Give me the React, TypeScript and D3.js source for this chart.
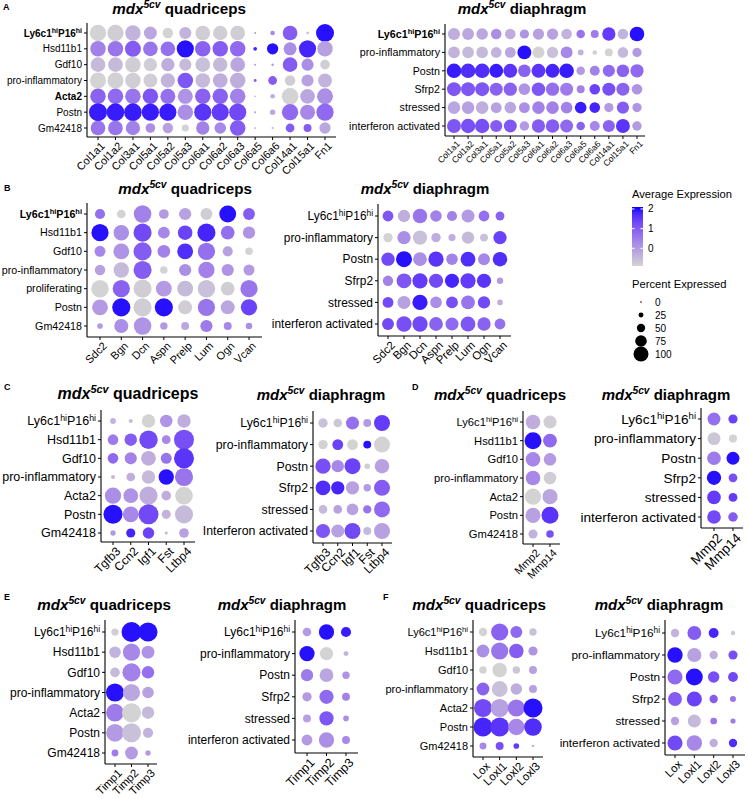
import React from 'react';
import * as d3 from 'd3';

// cluster labels
const LY6 = 'Ly6c1hiP16hi';
const quadRows = [LY6, 'Hsd11b1', 'Gdf10', 'pro-inflammatory', 'Acta2', 'Postn', 'Gm42418'];
const quadRowsB = [LY6, 'Hsd11b1', 'Gdf10', 'pro-inflammatory', 'proliferating', 'Postn', 'Gm42418'];
const diaRows = [LY6, 'pro-inflammatory', 'Postn', 'Sfrp2', 'stressed', 'interferon activated'];
const diaRowsC = [LY6, 'pro-inflammatory', 'Postn', 'Sfrp2', 'stressed', 'Interferon activated'];

// genes
const collagenGenes = ['Col1a1', 'Col1a2', 'Col3a1', 'Col5a1', 'Col5a2', 'Col5a3', 'Col6a1', 'Col6a2', 'Col6a3', 'Col6a5', 'Col6a6', 'Col14a1', 'Col15a1', 'Fn1'];
const ecmGenes = ['Sdc2', 'Bgn', 'Dcn', 'Aspn', 'Prelp', 'Lum', 'Ogn', 'Vcan'];
const growthGenes = ['Tgfb3', 'Ccn2', 'Igf1', 'Fst', 'Ltbp4'];
const mmpGenes = ['Mmp2', 'Mmp14'];
const timpGenes = ['Timp1', 'Timp2', 'Timp3'];
const loxGenes = ['Lox', 'Loxl1', 'Loxl2', 'Loxl3'];

// percent expressed / average expression, one row per cluster
const aQuadPct = [
  [90, 90, 85, 70, 55, 65, 80, 78, 80, 5, 20, 80, 10, 100],
  [85, 85, 88, 80, 80, 95, 85, 85, 85, 15, 60, 70, 95, 85],
  [80, 80, 85, 72, 72, 65, 80, 78, 80, 5, 8, 80, 65, 50],
  [88, 88, 85, 75, 78, 85, 80, 80, 85, 10, 45, 55, 65, 75],
  [85, 85, 85, 85, 82, 82, 85, 85, 85, 4, 20, 92, 80, 88],
  [100, 98, 98, 95, 95, 85, 95, 95, 95, 5, 25, 90, 82, 95],
  [80, 80, 78, 50, 55, 35, 72, 62, 85, 3, 5, 45, 40, 60],
];
const aQuadExp = [
  [-0.9, -0.8, -0.4, -0.2, -0.9, -0.4, -0.8, -0.8, -0.8, 0, 0.3, 1.0, -0.7, 2.0],
  [0.4, 0.6, 1.0, 0.6, 0.7, 2.0, 0.9, 1.0, 0.8, 1.8, 2.0, 0.2, 1.8, -0.1],
  [-0.5, -0.5, -0.8, -0.8, -0.3, -0.5, -0.6, -0.5, -0.2, 0, 0, 1.0, 0.2, -0.8],
  [-0.9, -0.85, -0.8, -0.8, -0.4, 1.1, -0.5, -0.3, -0.3, 1.0, 1.0, -0.8, -0.1, -0.4],
  [0.9, 0.8, 0.6, 1.1, 0.7, 0.1, 0.9, 0.9, 0.4, -0.5, -0.3, -0.9, -0.2, 0.2],
  [1.9, 1.9, 1.9, 1.9, 1.9, 0.2, 1.6, 1.5, 1.3, 0, -0.2, 0.8, 0.3, 0.8],
  [0.6, 0.6, 0.4, 0.2, -0.1, -0.9, 0.4, 0.3, 1.0, 0, -0.3, 1.0, 1.0, -0.2],
];
const aDiaPct = [
  [82, 80, 78, 70, 70, 60, 75, 75, 70, 55, 50, 90, 70, 100],
  [78, 78, 78, 70, 72, 95, 80, 75, 80, 35, 25, 50, 70, 60],
  [100, 100, 100, 95, 95, 85, 95, 95, 100, 55, 65, 82, 85, 90],
  [95, 95, 95, 88, 90, 78, 92, 90, 88, 50, 70, 88, 88, 70],
  [85, 85, 85, 72, 78, 72, 85, 85, 78, 78, 70, 60, 82, 60],
  [95, 98, 98, 82, 88, 62, 90, 92, 88, 55, 65, 82, 95, 62],
];
const aDiaExp = [
  [-0.3, -0.2, -0.2, 0.2, -0.3, 0.1, -0.1, -0.1, -0.4, 0.6, 0.5, 1.5, -0.4, 2.0],
  [-0.4, -0.5, -0.5, -0.4, -0.2, 2.0, -0.9, -0.6, 0.3, -0.4, -0.8, -0.9, -0.5, 0.0],
  [1.9, 1.7, 1.7, 1.9, 1.6, 0.9, 1.6, 1.8, 1.9, 0.0, 0.4, 0.8, 0.9, 0.8],
  [1.1, 1.1, 1.1, 0.9, 0.9, 0.1, 1.1, 0.7, 0.5, 0.4, 1.4, 1.2, 0.9, 0.1],
  [-0.2, -0.1, -0.3, -0.1, -0.2, 0.2, 0.4, 0.4, 0.4, 1.9, 1.8, 0.0, 1.0, 0.1],
  [1.1, 1.2, 1.2, 1.0, 1.1, 0.0, 1.0, 1.0, 0.8, 0.9, 0.3, 0.9, 1.6, 0.0],
];

const bQuadPct = [
  [50, 42, 92, 48, 62, 60, 88, 60],
  [90, 80, 95, 60, 75, 95, 70, 62],
  [55, 82, 95, 65, 82, 90, 50, 35],
  [52, 80, 95, 35, 62, 85, 62, 55],
  [92, 90, 95, 82, 82, 92, 70, 90],
  [82, 95, 95, 95, 72, 90, 72, 85],
  [25, 72, 92, 35, 38, 62, 38, 30],
];
const bQuadExp = [
  [0.7, -0.9, 0.4, 0.0, -0.1, -0.8, 2.0, 1.0],
  [2.0, 0.2, 1.3, 0.3, 1.4, 1.8, 0.7, 0.1],
  [0.3, 0.1, 1.0, 0.4, 1.7, 0.7, -0.1, -0.9],
  [-0.1, -0.5, 1.0, -0.9, 0.2, 0.4, 0.1, 0.0],
  [-0.9, 0.9, -0.8, 0.0, -0.5, -0.6, -0.8, 0.6],
  [0.0, 2.0, -0.8, 2.0, -0.8, 0.6, -0.2, 1.4],
  [0.0, 0.2, 0.1, 0.0, -0.2, 0.5, 0.3, 0.2],
];
const bDiaPct = [
  [65, 75, 90, 70, 60, 80, 65, 52],
  [55, 82, 88, 55, 40, 75, 45, 82],
  [82, 100, 85, 95, 70, 92, 72, 90],
  [62, 92, 95, 88, 88, 95, 88, 35],
  [65, 80, 95, 70, 72, 85, 75, 30],
  [72, 95, 95, 85, 80, 92, 82, 65],
];
const bDiaExp = [
  [1.1, -0.3, 0.6, 0.4, 0.4, 0.0, 0.7, 0.9],
  [-0.9, 0.2, -0.6, -0.3, -0.3, -0.5, -0.6, 1.4],
  [1.3, 2.0, 0.2, 1.6, 0.4, 1.7, 0.3, 1.7],
  [0.4, 1.1, 1.5, 1.3, 1.8, 1.5, 1.6, 0.0],
  [1.3, -0.1, 1.9, 0.2, 1.2, 0.6, 1.3, -0.3],
  [1.3, 1.2, 1.3, 0.9, 0.8, 1.1, 0.9, 0.7],
];

const cQuadPct = [
  [25, 15, 65, 60, 65],
  [50, 60, 92, 40, 100],
  [50, 58, 72, 52, 100],
  [15, 40, 65, 75, 90],
  [80, 72, 90, 45, 88],
  [95, 78, 100, 42, 90],
  [22, 42, 55, 10, 45],
];
const cQuadExp = [
  [-0.4, -0.5, -0.9, 0.1, -0.3],
  [0.5, 1.0, 1.3, 0.3, 1.2],
  [0.8, 0.4, -0.3, 0.6, 1.6],
  [-0.5, -0.3, -0.5, 2.0, 0.6],
  [0.2, 0.1, -0.3, -0.3, -0.9],
  [2.0, 0.3, 1.3, -0.4, -0.5],
  [0.0, 1.8, 1.4, -0.4, -0.1],
];
const cDiaPct = [
  [55, 50, 80, 45, 100],
  [55, 65, 65, 45, 100],
  [95, 75, 100, 30, 90],
  [92, 82, 82, 42, 100],
  [50, 50, 70, 48, 100],
  [88, 80, 100, 45, 100],
];
const cDiaExp = [
  [-0.6, -0.7, 0.7, 0.0, 1.5],
  [-0.9, 1.4, -0.9, 2.0, -0.9],
  [1.2, 0.3, 1.4, -0.8, -0.1],
  [1.7, 1.8, -0.1, 0.0, 1.0],
  [-0.5, -0.1, -0.1, 0.6, 0.8],
  [1.1, -0.1, 1.3, -0.5, -0.1],
];

const dQuadPct = [[85, 75], [100, 80], [85, 72], [85, 72], [95, 88], [88, 100], [50, 40]];
const dQuadExp = [[-0.3, -0.8], [2.0, 0.8], [0.3, 0.0], [0.3, -0.8], [-0.9, -0.2], [-0.1, 1.6], [-0.4, 1.2]];
const dDiaPct = [[85, 58], [85, 50], [90, 85], [95, 55], [90, 55], [90, 60]];
const dDiaExp = [[0.7, 1.4], [-0.7, -0.9], [0.5, 2.0], [2.0, 1.2], [1.5, 1.5], [1.3, 1.0]];

const eQuadPct = [[32, 100, 95], [55, 85, 62], [45, 90, 60], [90, 85, 55], [88, 95, 60], [88, 95, 48], [30, 62, 22]];
const eQuadExp = [[-0.8, 2.0, 2.0], [-0.4, 0.3, 0.1], [-0.5, 0.4, 0.7], [2.0, -0.2, -0.1], [0.5, -0.9, -0.5], [0.0, -0.6, -0.4], [0.5, 0.0, 0.0]];
const eDiaPct = [[50, 95, 60], [95, 82, 25], [75, 85, 42], [55, 88, 45], [45, 88, 30], [65, 95, 45]];
const eDiaExp = [[0.0, 2.0, 1.9], [2.0, -0.9, -0.4], [0.5, -0.2, 0.1], [0.0, 0.8, 0.4], [-0.1, 1.1, 0.2], [0.0, 0.2, 0.3]];

const fQuadPct = [[40, 90, 60, 35], [65, 90, 75, 45], [35, 75, 35, 38], [65, 82, 58, 38], [95, 95, 90, 100], [100, 100, 85, 92], [32, 38, 25, 8]];
const fQuadExp = [[-0.9, 0.9, 0.8, -0.6], [0.2, 0.6, 1.0, 0.1], [-0.9, -0.9, -0.7, -0.1], [0.9, -0.6, -0.3, -0.1], [1.3, -0.1, 0.6, 2.0], [1.8, 1.6, 0.3, 1.7], [0.3, 1.2, 1.5, -0.4]];
const fDiaPct = [[45, 80, 55, 20], [90, 82, 45, 50], [88, 100, 65, 55], [80, 88, 45, 30], [45, 75, 35, 25], [88, 90, 45, 45]];
const fDiaExp = [[-0.4, 1.0, 1.8, -0.7], [2.0, -0.1, -0.3, 1.2], [0.8, 2.0, 1.2, 1.3], [1.0, 1.4, 1.0, 0.6], [-0.1, -0.5, 0.6, 0.5], [1.3, 0.3, -0.3, 1.7]];

// legend values
const expTicks = [0, 1, 2];
const pctLegend = [0, 25, 50, 75, 100];

const FONT = '"Liberation Sans", Arial, Helvetica, sans-serif';

const color = d3.scaleLinear<string>()
  .domain([-0.9, 2.1])
  .range(['lightgrey', 'blue'])
  .interpolate(d3.interpolateLab)
  .clamp(true);

type Panel = {
  rows: string[]; cols: string[]; pct: number[][]; exp: number[][];
  tissue: string; bold: string[];
  axisX: number; top: number; bottom: number; right: number;
  rowA: number; rowB: number; colA: number; colB: number;
  rMax: number; fs: number; xfs: number;
  tx: number; ty: number; tfs: number;
};

const panels: Panel[] = [
  { rows: quadRows, cols: collagenGenes, pct: aQuadPct, exp: aQuadExp, tissue: 'quadriceps', bold: [LY6, 'Acta2'],
    axisX: 87, top: 23, bottom: 137, right: 336, rowA: 33, rowB: 128, colA: 98, colB: 325,
    rMax: 9, fs: 10, xfs: 11, tx: 179, ty: 14, tfs: 15.2 },
  { rows: diaRows, cols: collagenGenes, pct: aDiaPct, exp: aDiaExp, tissue: 'diaphragm', bold: [LY6],
    axisX: 445, top: 24, bottom: 136, right: 645, rowA: 34, rowB: 126, colA: 454, colB: 637,
    rMax: 7.3, fs: 10.7, xfs: 8.6, tx: 522, ty: 14, tfs: 15 },
  { rows: quadRowsB, cols: ecmGenes, pct: bQuadPct, exp: bQuadExp, tissue: 'quadriceps', bold: [LY6],
    axisX: 87, top: 203, bottom: 337, right: 262, rowA: 214, rowB: 326, colA: 100, colB: 249,
    rMax: 9.5, fs: 10.7, xfs: 11, tx: 185, ty: 194, tfs: 15.2 },
  { rows: diaRows, cols: ecmGenes, pct: bDiaPct, exp: bDiaExp, tissue: 'diaphragm', bold: [],
    axisX: 378, top: 204, bottom: 336, right: 511, rowA: 216, rowB: 324, colA: 388, colB: 500,
    rMax: 8, fs: 11.9, xfs: 11.5, tx: 425, ty: 194, tfs: 15 },
  { rows: quadRows, cols: growthGenes, pct: cQuadPct, exp: cQuadExp, tissue: 'quadriceps', bold: [],
    axisX: 101, top: 410, bottom: 542, right: 195, rowA: 421, rowB: 533, colA: 113, colB: 184,
    rMax: 10, fs: 12.5, xfs: 12, tx: 128, ty: 399, tfs: 16 },
  { rows: diaRowsC, cols: growthGenes, pct: cDiaPct, exp: cDiaExp, tissue: 'diaphragm', bold: [],
    axisX: 313, top: 411, bottom: 543, right: 392, rowA: 423, rowB: 531, colA: 323, colB: 382,
    rMax: 8, fs: 12.3, xfs: 12, tx: 321, ty: 400, tfs: 15 },
  { rows: quadRows, cols: mmpGenes, pct: dQuadPct, exp: dQuadExp, tissue: 'quadriceps', bold: [],
    axisX: 523, top: 411, bottom: 544, right: 560, rowA: 422, rowB: 534, colA: 533, colB: 550,
    rMax: 8.5, fs: 11.2, xfs: 11, tx: 500, ty: 400, tfs: 15 },
  { rows: diaRows, cols: mmpGenes, pct: dDiaPct, exp: dDiaExp, tissue: 'diaphragm', bold: [],
    axisX: 701, top: 408, bottom: 528, right: 743, rowA: 419, rowB: 517, colA: 714, colB: 733,
    rMax: 7.5, fs: 13.6, xfs: 13.5, tx: 666, ty: 400, tfs: 15 },
  { rows: quadRows, cols: timpGenes, pct: eQuadPct, exp: eQuadExp, tissue: 'quadriceps', bold: [],
    axisX: 105, top: 620, bottom: 764, right: 157, rowA: 632, rowB: 753, colA: 115, colB: 148,
    rMax: 10, fs: 12, xfs: 11.3, tx: 104, ty: 610, tfs: 15.2 },
  { rows: diaRows, cols: timpGenes, pct: eDiaPct, exp: eDiaExp, tissue: 'diaphragm', bold: [],
    axisX: 295, top: 620, bottom: 753, right: 358, rowA: 632, rowB: 740, colA: 307, colB: 346,
    rMax: 8, fs: 12, xfs: 12.5, tx: 282, ty: 610, tfs: 15 },
  { rows: quadRows, cols: loxGenes, pct: fQuadPct, exp: fQuadExp, tissue: 'quadriceps', bold: [],
    axisX: 473, top: 620, bottom: 757, right: 543, rowA: 632, rowB: 746, colA: 483, colB: 533,
    rMax: 9.5, fs: 11, xfs: 11.5, tx: 479, ty: 610, tfs: 15.2 },
  { rows: diaRows, cols: loxGenes, pct: fDiaPct, exp: fDiaExp, tissue: 'diaphragm', bold: [],
    axisX: 665, top: 620, bottom: 755, right: 745, rowA: 633, rowB: 743, colA: 675, colB: 733,
    rMax: 8.5, fs: 11.8, xfs: 11.5, tx: 659, ty: 610, tfs: 15 },
];

const letters = [
  { t: 'A', x: 3, y: 10 }, { t: 'B', x: 4, y: 191 }, { t: 'C', x: 4, y: 390 },
  { t: 'D', x: 412, y: 390 }, { t: 'E', x: 4, y: 600 }, { t: 'F', x: 383, y: 600 },
];

function rowLabel(label: string, size: number) {
  if (label !== LY6) return label;
  const s = size * 0.38;
  return (
    <>
      <tspan>Ly6c1</tspan>
      <tspan dy={-s} fontSize={size * 0.7}>hi</tspan>
      <tspan dy={s}>P16</tspan>
      <tspan dy={-s} fontSize={size * 0.7}>hi</tspan>
    </>
  );
}

function DotPlot({ p }: { p: Panel }) {
  const y = d3.scalePoint<string>().domain(p.rows).range([p.rowA, p.rowB]);
  const x = d3.scalePoint<string>().domain(p.cols).range([p.colA, p.colB]);
  const r = d3.scaleLinear().domain([0, 100]).range([0.6, p.rMax]);
  const sup = p.tfs * 0.4;
  return (
    <g>
      <text x={p.tx} y={p.ty} textAnchor="middle" fontSize={p.tfs} fontWeight="bold">
        <tspan fontStyle="italic">mdx</tspan>
        <tspan fontStyle="italic" fontSize={p.tfs * 0.68} dy={-sup}>5cv</tspan>
        <tspan dy={sup}>{'\u00a0' + p.tissue}</tspan>
      </text>
      {p.rows.map((row, i) =>
        p.cols.map((col, j) => (
          <circle key={row + col} cx={x(col)} cy={y(row)} r={r(p.pct[i][j])} fill={color(p.exp[i][j])} />
        ))
      )}
      <line x1={p.axisX} x2={p.axisX} y1={p.top} y2={p.bottom} stroke="#000" strokeWidth={1.1} />
      <line x1={p.axisX} x2={p.right} y1={p.bottom} y2={p.bottom} stroke="#000" strokeWidth={1.1} />
      {p.rows.map(row => (
        <g key={row}>
          <line x1={p.axisX - 3} x2={p.axisX} y1={y(row)} y2={y(row)} stroke="#000" strokeWidth={1} />
          <text x={p.axisX - 5} y={y(row)} dy="0.35em" textAnchor="end" fontSize={p.fs}
            fontWeight={p.bold.includes(row) ? 'bold' : 'normal'}>
            {rowLabel(row, p.fs)}
          </text>
        </g>
      ))}
      {p.cols.map(col => (
        <g key={col}>
          <line x1={x(col)} x2={x(col)} y1={p.bottom} y2={p.bottom + 3} stroke="#000" strokeWidth={1} />
          <text transform={`translate(${(x(col) as number) + 2},${p.bottom + 4}) rotate(-45)`}
            dy="0.72em" textAnchor="end" fontSize={p.xfs}>
            {col}
          </text>
        </g>
      ))}
    </g>
  );
}

function Legend() {
  const barY = d3.scaleLinear().domain([-0.9, 2.1]).range([266, 207]);
  const stops = d3.range(0, 1.0001, 0.1);
  const rr = d3.scaleLinear().domain([0, 100]).range([0.8, 7.5]);
  const dotY = d3.scalePoint<number>().domain(pctLegend).range([302, 354]);
  return (
    <g>
      <defs>
        <linearGradient id="expgrad" x1="0" y1="1" x2="0" y2="0">
          {stops.map(t => (
            <stop key={t} offset={t} stopColor={color(-0.9 + t * 3)} />
          ))}
        </linearGradient>
      </defs>
      <text x={632} y={198} fontSize={11.2}>Average Expression</text>
      <rect x={632} y={207} width={11} height={59} fill="url(#expgrad)" />
      {expTicks.map(v => (
        <g key={v}>
          <line x1={632} x2={634.5} y1={barY(v)} y2={barY(v)} stroke="#fff" />
          <line x1={640.5} x2={643} y1={barY(v)} y2={barY(v)} stroke="#fff" />
          <text x={648} y={barY(v)} dy="0.35em" fontSize={10}>{v}</text>
        </g>
      ))}
      <text x={632} y={288} fontSize={11.2}>Percent Expressed</text>
      {pctLegend.map(v => (
        <g key={v}>
          <circle cx={641} cy={dotY(v)} r={rr(v)} fill="#000" />
          <text x={655} y={dotY(v)} dy="0.35em" fontSize={10}>{v}</text>
        </g>
      ))}
    </g>
  );
}

export default function App() {
  return (
    <svg width={748} height={799} style={{ position: 'absolute', left: 0, top: 0, background: '#fff' }}
      fontFamily={FONT}>
      <rect width={748} height={799} fill="#fff" />
      {letters.map(l => (
        <text key={l.t} x={l.x} y={l.y} fontSize={9} fontWeight="bold">{l.t}</text>
      ))}
      {panels.map((p, i) => <DotPlot key={i} p={p} />)}
      <Legend />
    </svg>
  );
}
